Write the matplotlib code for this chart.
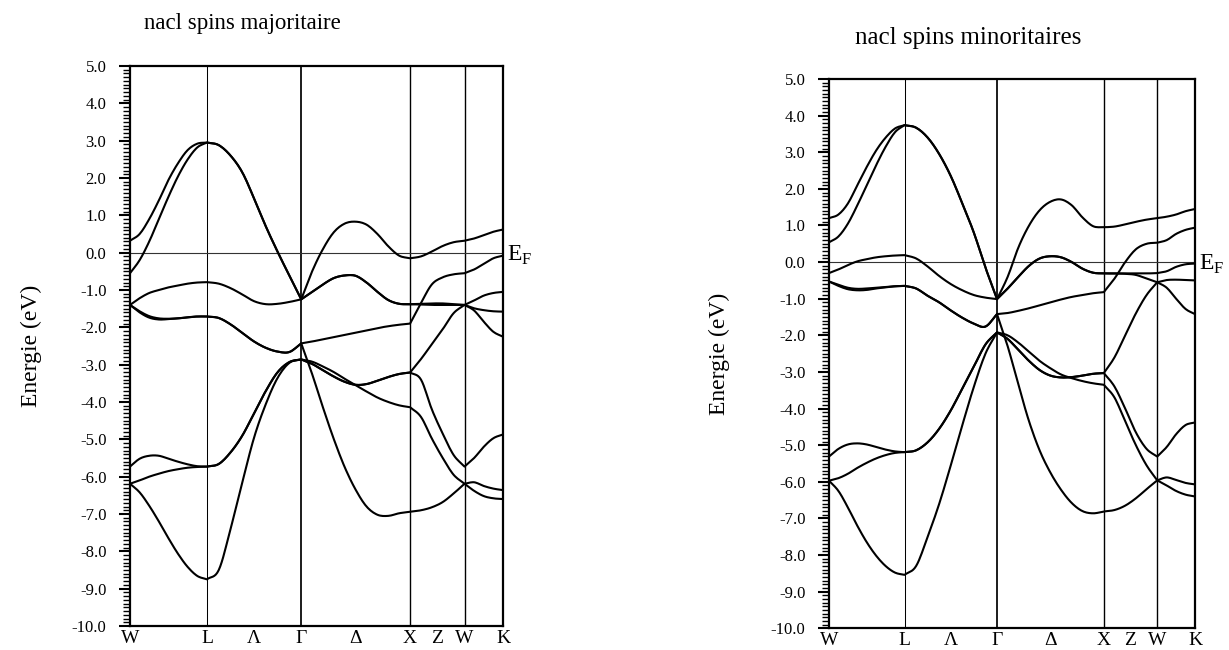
import numpy as np
import matplotlib
matplotlib.use("Agg")
import matplotlib.pyplot as plt
from matplotlib.ticker import MultipleLocator, FormatStrFormatter

plt.rcParams['font.family'] = ['Liberation Serif', 'DejaVu Serif']
plt.rcParams['mathtext.fontset'] = 'custom'
plt.rcParams['mathtext.rm'] = 'Liberation Serif'
plt.rcParams['axes.unicode_minus'] = False

# fcc path W-L-Γ-X-W-K, segment lengths in units of 2π/a and samples per segment
seg_lengths = [np.sqrt(0.5), np.sqrt(3) / 2, 1.0, 0.5, np.sqrt(2) / 4]
seg_steps = [8, 8, 10, 5, 4]
k_labels = ['W', 'L', 'Λ', 'Γ', 'Δ', 'X', 'Z', 'W', 'K']

# ---- majority spin bands (eV) ----
maj_b1 = [-6.19, -6.42, -6.78, -7.20, -7.65, -8.07, -8.42, -8.66, -8.75,
          -8.50, -7.40, -6.15, -4.95, -4.05, -3.35, -2.95, -2.86,
          -2.92, -3.05, -3.20, -3.38, -3.55, -3.72, -3.88, -4.00, -4.09, -4.14,
          -4.40, -4.98, -5.50, -5.95, -6.19,
          -6.38, -6.52, -6.58, -6.60]
maj_b2 = [-6.19, -6.10, -6.00, -5.92, -5.85, -5.80, -5.76, -5.74, -5.73,
          -5.66, -5.35, -4.90, -4.30, -3.70, -3.20, -2.93, -2.86,
          -2.98, -3.15, -3.32, -3.46, -3.54, -3.52, -3.43, -3.33, -3.25, -3.21,
          -3.40, -4.20, -4.85, -5.42, -5.73,
          -5.50, -5.20, -4.97, -4.87]
maj_b3 = [-5.73, -5.52, -5.44, -5.44, -5.52, -5.60, -5.67, -5.72, -5.73,
          -5.66, -5.35, -4.90, -4.30, -3.70, -3.20, -2.93, -2.86,
          -2.98, -3.15, -3.32, -3.46, -3.54, -3.52, -3.43, -3.33, -3.25, -3.21,
          -2.85, -2.45, -2.05, -1.62, -1.40,
          -1.55, -1.85, -2.12, -2.25]
maj_b4 = [-1.40, -1.60, -1.74, -1.79, -1.78, -1.76, -1.73, -1.71, -1.71,
          -1.75, -1.92, -2.15, -2.38, -2.55, -2.65, -2.66, -2.43,
          -3.25, -4.15, -5.00, -5.75, -6.35, -6.80, -7.02, -7.05, -6.98, -6.94,
          -6.90, -6.82, -6.68, -6.45, -6.19,
          -6.15, -6.25, -6.32, -6.36]
maj_b5 = [-1.40, -1.57, -1.70, -1.76, -1.77, -1.76, -1.73, -1.71, -1.71,
          -1.75, -1.92, -2.15, -2.38, -2.55, -2.65, -2.66, -2.43,
          -2.38, -2.32, -2.26, -2.20, -2.14, -2.08, -2.02, -1.97, -1.93, -1.90,
          -1.35, -0.85, -0.66, -0.58, -0.55,
          -0.45, -0.30, -0.15, -0.08]
maj_b6 = [-1.40, -1.22, -1.08, -1.00, -0.93, -0.88, -0.83, -0.80, -0.79,
          -0.83, -0.95, -1.12, -1.30, -1.38, -1.37, -1.32, -1.25,
          -1.05, -0.85, -0.68, -0.61, -0.62, -0.80, -1.05, -1.27, -1.37, -1.38,
          -1.39, -1.40, -1.40, -1.40, -1.40,
          -1.49, -1.54, -1.57, -1.58]
maj_b7 = [-0.55, -0.20, 0.30, 0.90, 1.50, 2.05, 2.50, 2.82, 2.95,
          2.88, 2.60, 2.15, 1.45, 0.70, 0.02, -0.62, -1.25,
          -1.05, -0.85, -0.68, -0.61, -0.62, -0.80, -1.05, -1.27, -1.37, -1.38,
          -1.37, -1.36, -1.36, -1.38, -1.40,
          -1.28, -1.15, -1.08, -1.05]
maj_b8 = [0.32, 0.50, 0.90, 1.40, 1.95, 2.40, 2.75, 2.92, 2.95,
          2.88, 2.60, 2.15, 1.45, 0.70, 0.02, -0.62, -1.25,
          -0.50, 0.10, 0.55, 0.78, 0.83, 0.75, 0.50, 0.17, -0.08, -0.15,
          -0.10, 0.03, 0.18, 0.28, 0.32,
          0.38, 0.47, 0.56, 0.62]

# ---- minority spin bands (eV) ----
min_b1 = [-5.97, -6.25, -6.70, -7.20, -7.65, -8.02, -8.30, -8.48, -8.54,
          -8.30, -7.50, -6.60, -5.55, -4.45, -3.40, -2.50, -1.92,
          -2.00, -2.20, -2.45, -2.70, -2.90, -3.07, -3.17, -3.25, -3.31, -3.35,
          -3.70, -4.35, -5.00, -5.55, -5.96,
          -6.10, -6.25, -6.35, -6.40]
min_b2 = [-5.97, -5.90, -5.78, -5.62, -5.48, -5.36, -5.27, -5.21, -5.19,
          -5.14, -4.92, -4.55, -4.05, -3.45, -2.85, -2.25, -1.92,
          -2.10, -2.40, -2.70, -2.95, -3.10, -3.15, -3.14, -3.10, -3.05, -3.03,
          -3.40, -4.00, -4.65, -5.10, -5.31,
          -5.05, -4.70, -4.45, -4.38]
min_b3 = [-5.31, -5.10, -4.98, -4.95, -4.98, -5.05, -5.12, -5.17, -5.19,
          -5.14, -4.92, -4.55, -4.05, -3.45, -2.85, -2.25, -1.92,
          -2.10, -2.40, -2.70, -2.95, -3.10, -3.15, -3.14, -3.10, -3.05, -3.03,
          -2.60, -2.00, -1.40, -0.90, -0.55,
          -0.49, -0.48, -0.49, -0.50]
min_b4 = [-0.53, -0.65, -0.74, -0.77, -0.76, -0.72, -0.69, -0.66, -0.65,
          -0.72, -0.92, -1.10, -1.32, -1.52, -1.68, -1.76, -1.42,
          -2.30, -3.35, -4.35, -5.15, -5.75, -6.22, -6.58, -6.80, -6.86, -6.81,
          -6.77, -6.65, -6.45, -6.20, -5.96,
          -5.88, -5.95, -6.03, -6.07]
min_b5 = [-0.53, -0.62, -0.70, -0.73, -0.72, -0.70, -0.68, -0.66, -0.65,
          -0.72, -0.92, -1.10, -1.32, -1.52, -1.68, -1.76, -1.42,
          -1.39, -1.33, -1.26, -1.18, -1.10, -1.02, -0.95, -0.90, -0.85, -0.82,
          -0.45, 0.00, 0.35, 0.50, 0.53,
          0.60, 0.77, 0.88, 0.94]
min_b6 = [-0.30, -0.20, -0.08, 0.02, 0.08, 0.13, 0.16, 0.18, 0.19,
          0.10, -0.12, -0.38, -0.60, -0.77, -0.90, -0.97, -1.01,
          -0.72, -0.40, -0.10, 0.10, 0.16, 0.13, 0.00, -0.18, -0.29, -0.31,
          -0.31, -0.31, -0.31, -0.31, -0.30,
          -0.25, -0.13, -0.06, -0.04]
min_b7 = [0.54, 0.70, 1.05, 1.55, 2.10, 2.65, 3.15, 3.55, 3.74,
          3.67, 3.40, 2.95, 2.35, 1.60, 0.80, -0.15, -1.01,
          -0.72, -0.40, -0.10, 0.10, 0.16, 0.13, 0.00, -0.18, -0.29, -0.31,
          -0.31, -0.32, -0.35, -0.45, -0.55,
          -0.70, -1.00, -1.28, -1.42]
min_b8 = [1.20, 1.30, 1.60, 2.10, 2.60, 3.05, 3.40, 3.65, 3.74,
          3.67, 3.40, 2.95, 2.35, 1.60, 0.80, -0.15, -1.01,
          -0.40, 0.40, 1.00, 1.42, 1.65, 1.71, 1.55, 1.22, 0.98, 0.95,
          0.97, 1.03, 1.10, 1.16, 1.20,
          1.24, 1.30, 1.39, 1.45]

maj_bands = [maj_b1, maj_b2, maj_b3, maj_b4, maj_b5, maj_b6, maj_b7, maj_b8]
min_bands = [min_b1, min_b2, min_b3, min_b4, min_b5, min_b6, min_b7, min_b8]

# k coordinates of the samples and of the high-symmetry points
nodes = np.concatenate([[0.0], np.cumsum(seg_lengths)])
kpts = [0.0]
for a, b, n in zip(nodes[:-1], nodes[1:], seg_steps):
    kpts.extend(np.linspace(a, b, n + 1)[1:])
kpts = np.array(kpts)
label_pos = [nodes[0], nodes[1], (nodes[1] + nodes[2]) / 2, nodes[2],
             (nodes[2] + nodes[3]) / 2, nodes[3], (nodes[3] + nodes[4]) / 2,
             nodes[4], nodes[5]]
vline_widths = [0.75, 1.25, 1.0, 1.0]


def smooth_path(k, e, sub=8):
    """Cubic Hermite curve through the samples, kept separate on each
    path segment so the kinks at high-symmetry points stay sharp."""
    k = np.asarray(k, float)
    e = np.asarray(e, float)
    xs, ys = [k[:1]], [e[:1]]
    start = 0
    for n in seg_steps:
        kk = k[start:start + n + 1]
        ee = e[start:start + n + 1]
        h = kk[1] - kk[0]
        m = np.empty_like(ee)
        m[1:-1] = (ee[2:] - ee[:-2]) / (2 * h)
        m[0] = (ee[1] - ee[0]) / h
        m[-1] = (ee[-1] - ee[-2]) / h
        t = np.linspace(0, 1, sub + 1)[1:]
        for i in range(n):
            h00 = 2 * t**3 - 3 * t**2 + 1
            h10 = t**3 - 2 * t**2 + t
            h01 = -2 * t**3 + 3 * t**2
            h11 = t**3 - t**2
            xs.append(kk[i] + t * h)
            ys.append(h00 * ee[i] + h10 * h * m[i] + h01 * ee[i + 1] + h11 * h * m[i + 1])
        start += n
    return np.concatenate(xs), np.concatenate(ys)


def draw_panel(ax, bands):
    for e in bands:
        x, y = smooth_path(kpts, e)
        ax.plot(x, y, color='black', lw=1.5, solid_joinstyle='round',
                solid_capstyle='round', zorder=3)
    for x, w in zip(nodes[1:-1], vline_widths):
        ax.axvline(x, color='black', lw=w, zorder=2)
    ax.axhline(0.0, color='#333333', lw=0.8, zorder=2)
    ax.set_xlim(nodes[0], nodes[-1])
    ax.set_ylim(-10, 5)
    ax.yaxis.set_major_locator(MultipleLocator(1.0))
    ax.yaxis.set_minor_locator(MultipleLocator(0.1))
    ax.yaxis.set_major_formatter(FormatStrFormatter('%.1f'))
    ax.tick_params(axis='y', which='major', direction='out', length=8,
                   width=1.5, labelsize=12, pad=9)
    ax.tick_params(axis='y', which='minor', direction='out', length=5,
                   width=1.0)
    ax.set_xticks(label_pos)
    ax.set_xticklabels(k_labels)
    ax.tick_params(axis='x', length=0, labelsize=14, pad=3)
    for s in ax.spines.values():
        s.set_linewidth(1.6)
    ax.set_ylabel('Energie (eV)', fontsize=17)
    ax.text(1.012, -0.22, r'E$_{\mathrm{F}}$', transform=ax.get_yaxis_transform(),
            fontsize=17, ha='left', va='baseline')


fig = plt.figure(figsize=(12.29, 6.5), dpi=100)
W, H = 1229.0, 650.0
ax1 = fig.add_axes([130 / W, 1 - 626 / H, 373 / W, 560 / H])
ax2 = fig.add_axes([829 / W, 1 - 628.3 / H, 366 / W, 549.3 / H])

draw_panel(ax1, maj_bands)
draw_panel(ax2, min_bands)
ax1.yaxis.set_label_coords(-0.235, 0.5)
ax2.yaxis.set_label_coords(-0.27, 0.5)

fig.text(242 / W, 1 - 23 / H, 'nacl spins majoritaire', fontsize=16.5,
         ha='center', va='center')
fig.text(968 / W, 1 - 38 / H, 'nacl spins minoritaires', fontsize=18,
         ha='center', va='center')

fig.savefig('out.png', dpi=100)
